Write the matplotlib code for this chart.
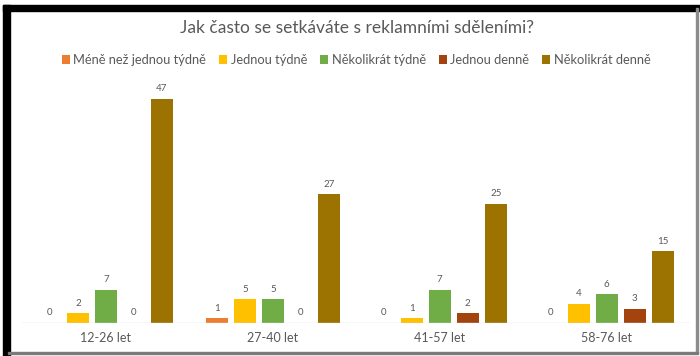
import numpy as np
import matplotlib.pyplot as plt
from matplotlib.patches import Rectangle

plt.rcParams['font.family'] = ['Lato', 'DejaVu Sans']

# věkové skupiny a odpovědi
skupiny = ['12-26 let', '27-40 let', '41-57 let', '58-76 let']
odpovedi = ['Méně než jednou týdně', 'Jednou týdně', 'Několikrát týdně',
            'Jednou denně', 'Několikrát denně']
mene_nez_tydne = [0, 1, 0, 0]
jednou_tydne = [2, 5, 1, 4]
nekolikrat_tydne = [7, 5, 7, 6]
jednou_denne = [0, 0, 2, 3]
nekolikrat_denne = [47, 27, 25, 15]

hodnoty = [mene_nez_tydne, jednou_tydne, nekolikrat_tydne, jednou_denne, nekolikrat_denne]
barvy = ['#ED7D31', '#FFC000', '#70AD47', '#A3440F', '#9C7300']
seda = '#595959'

fig = plt.figure(figsize=(7, 3.56), dpi=100)

# ramecek kolem grafu
ram = fig.add_axes([0, 0, 1, 1], zorder=-1)
ram.set_xlim(0, 700)
ram.set_ylim(356, 0)
ram.axis('off')
ram.add_patch(Rectangle((2.5, 4.5), 7, 352, color='black'))
ram.add_patch(Rectangle((2.5, 4.5), 698, 6, color='black'))
ram.add_patch(Rectangle((696, 8), 1.5, 345, color='#8c8c8c'))
ram.add_patch(Rectangle((8, 351.5), 690, 2, color='#7a7a7a'))

ax = fig.add_axes([22.5 / 700, 33 / 356, 667.5 / 700, 238.5 / 356])
x = np.arange(len(skupiny))
sirka = 0.132
krok = 0.168

for i, (nazev, data, barva) in enumerate(zip(odpovedi, hodnoty, barvy)):
    pozice = x + (i - 2) * krok
    sloupce = ax.bar(pozice, data, sirka, color=barva, label=nazev)
    for p, v in zip(pozice, data):
        ax.annotate(str(v), (p, v), xytext=(0, 4), textcoords='offset points',
                    ha='center', va='bottom', fontsize=7, color=seda)

ax.set_xlim(-0.5, 3.5)
ax.set_ylim(0, 50)
ax.axhline(0, color='#D9D9D9', lw=1)
for s in ax.spines.values():
    s.set_visible(False)
ax.set_yticks([])
ax.set_xticks(x)
ax.set_xticklabels(skupiny, fontsize=9, color=seda)
ax.tick_params(axis='x', length=0, pad=6.5)

fig.text(0.51, 1 - 28 / 356, 'Jak často se setkáváte s reklamními sděleními?',
         ha='center', va='center', fontsize=12.5, color=seda)
fig.legend(loc='center', bbox_to_anchor=(0.509, 1 - 60 / 356), ncol=5, frameon=False,
           fontsize=9.3, labelcolor=seda, handlelength=0.6, handleheight=0.6,
           handletextpad=0.3, columnspacing=1.0)

fig.savefig('out.png', dpi=100)
